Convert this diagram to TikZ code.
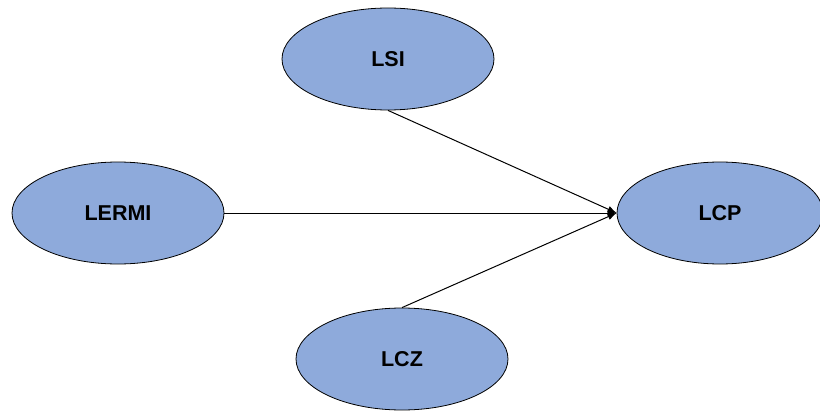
\documentclass[tikz,border=0pt]{standalone}
\usepackage{fontspec}
\setmainfont{Liberation Sans}
\usetikzlibrary{shapes.geometric,arrows.meta}

\definecolor{ovalblue}{RGB}{142,170,219}

\begin{document}
\begin{tikzpicture}[x=1pt,y=-1pt,
		latent/.style={ellipse,draw,fill=ovalblue,line width=0.8pt,
			minimum width=212pt,minimum height=102pt,inner sep=0pt,
			font=\fontsize{21.5}{24}\selectfont\bfseries},
		path/.style={-{Latex[length=9pt,width=7pt]},line width=1pt}]
		\useasboundingbox (0,0) rectangle (820,412);
		
		% latent variables
		\node[latent] (lsi) at (388,59) {LSI};
		\node[latent] (lermi) at (118,213) {LERMI};
		\node[latent] (lcz) at (402,359) {LCZ};
		\node[latent,minimum width=206pt] (lcp) at (720,213) {LCP};
		
		% paths into LCP
		\draw[path] (lsi.south) -- (lcp.west);
		\draw[path] (lermi.east) -- (lcp.west);
		\draw[path] (lcz.north) -- (lcp.west);
		
	\end{tikzpicture}
\end{document}
